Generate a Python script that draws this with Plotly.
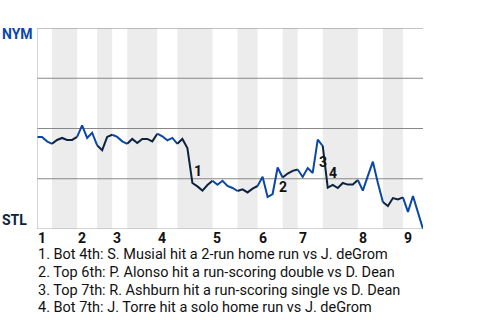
import plotly.graph_objects as go

# Win probability for NYM (%) after each plate appearance (event index 0..77)
win_prob = [45.8, 45.8, 43.6, 42.4, 44.3, 45.3, 44.3, 44.3, 45.8, 51.6,
            45.3, 47.9, 41.6, 39.2, 45.8, 46.9, 45.8, 43.6, 42.4, 44.8,
            42.8, 44.8, 44.8, 43.6, 47.4, 46.1, 44.1, 45.3, 42.4, 44.8,
            40.3, 22.9, 21.2, 19.1, 21.9, 24.0, 22.0, 24.0, 21.4, 20.4,
            18.9, 19.7, 18.2, 20.1, 21.4, 26.0, 15.9, 17.4, 30.6, 25.6,
            27.6, 28.9, 29.6, 25.9, 30.3, 27.9, 44.5, 41.3, 20.6, 21.9,
            20.4, 22.9, 22.1, 22.1, 24.4, 19.1, 26.4, 33.5, 22.9, 13.4,
            11.4, 15.4, 14.7, 15.7, 8.5, 16.4, 8.5, 0.0]

# Event index where each half inning starts (top 1, bot 1, top 2, ...), plus the end
half_bounds = [0, 3, 8, 12, 15, 18, 24, 28, 35, 40, 44, 49, 52, 57, 64, 69, 73, 77]
inning_labels = ["1", "2", "3", "4", "5", "6", "7", "8", "9"]

# Key events: (label, event index where the swing ends)
key_labels = ["1", "2", "3", "4"]
key_events = [31, 48, 56, 58]
notes = [
    "1. Bot 4th: S. Musial hit a 2-run home run vs J. deGrom",
    "2. Top 6th: P. Alonso hit a run-scoring double vs D. Dean",
    "3. Top 7th: R. Ashburn hit a run-scoring single vs D. Dean",
    "4. Bot 7th: J. Torre hit a solo home run vs J. deGrom",
]

BLUE = "#0a47a8"
NAVY = "#0c2340"
FONT = "Roboto"

fig = go.Figure()
shapes = []

# shaded bottom halves
for k in range(1, len(half_bounds) - 1, 2):
    shapes.append(dict(type="rect", xref="x", yref="y", x0=half_bounds[k], x1=half_bounds[k + 1],
                       y0=0, y1=100, fillcolor="#ececec", line=dict(width=0), layer="below"))

# horizontal grid lines
for g in [25, 50, 75, 100]:
    shapes.append(dict(type="line", xref="x", yref="y", x0=0, x1=half_bounds[-1], y0=g, y1=g,
                       line=dict(color="#888888", width=1.2), layer="below"))
shapes.append(dict(type="line", xref="x", yref="y", x0=0, x1=half_bounds[-1], y0=0, y1=0,
                   line=dict(color="#aaaaaa", width=1.2), layer="above"))
shapes.append(dict(type="line", xref="x", yref="y", x0=0, x1=0, y0=0, y1=100,
                   line=dict(color="#bbbbbb", width=1.2), layer="above"))

# line segments per half inning
for k in range(len(half_bounds) - 1):
    a, b = half_bounds[k], half_bounds[k + 1]
    xs = list(range(a, b + 1))
    ys = win_prob[a:b + 1]
    fig.add_trace(go.Scatter(x=xs, y=ys, mode="lines",
                             line=dict(color=BLUE if k % 2 == 0 else NAVY, width=2),
                             hoverinfo="skip", showlegend=False))

annotations = []
# inning labels
for n, lab in enumerate(inning_labels):
    annotations.append(dict(x=half_bounds[2 * n], y=0, xref="x", yref="y", text=lab,
                            showarrow=False, xanchor="left", yanchor="top", xshift=-1, yshift=0,
                            height=14,
                            font=dict(family=FONT, size=14, color="#111111", weight="bold")))
# key event labels
for lab, e in zip(key_labels, key_events):
    annotations.append(dict(x=e - 0.5, y=(win_prob[e - 1] + win_prob[e]) / 2, xref="x", yref="y",
                            text=lab, showarrow=False, xanchor="left", yanchor="middle",
                            xshift=2, yshift=-6,
                            font=dict(family=FONT, size=14, color="#111111", weight="bold")))
# team labels
annotations.append(dict(x=0, y=100, xref="x", yref="y", text="NYM", showarrow=False,
                        xanchor="right", yanchor="middle", xshift=-2, yshift=-6,
                        font=dict(family=FONT, size=14, color=BLUE, weight="bold")))
annotations.append(dict(x=0, y=0, xref="x", yref="y", text="STL", showarrow=False,
                        xanchor="right", yanchor="middle", xshift=-8, yshift=9,
                        font=dict(family=FONT, size=14, color=NAVY, weight="bold")))
# notes
for j, t in enumerate(notes):
    annotations.append(dict(x=0, y=0, xref="x", yref="y", text=t, showarrow=False,
                            xanchor="left", yanchor="middle", xshift=-1, yshift=-25.5 - 17.8 * j,
                            height=15,
                            font=dict(family=FONT, size=14.5, color="#111111")))

fig.update_layout(
    width=480, height=320,
    margin=dict(l=37, r=57, t=28, b=91),
    paper_bgcolor="white", plot_bgcolor="white",
    xaxis=dict(range=[0, half_bounds[-1]], showgrid=False, zeroline=False, showticklabels=False,
               ticks="", fixedrange=True),
    yaxis=dict(range=[0, 100], showgrid=False, zeroline=False, showticklabels=False,
               ticks="", fixedrange=True),
    shapes=shapes, annotations=annotations, showlegend=False,
)

fig.write_html("out.html")
